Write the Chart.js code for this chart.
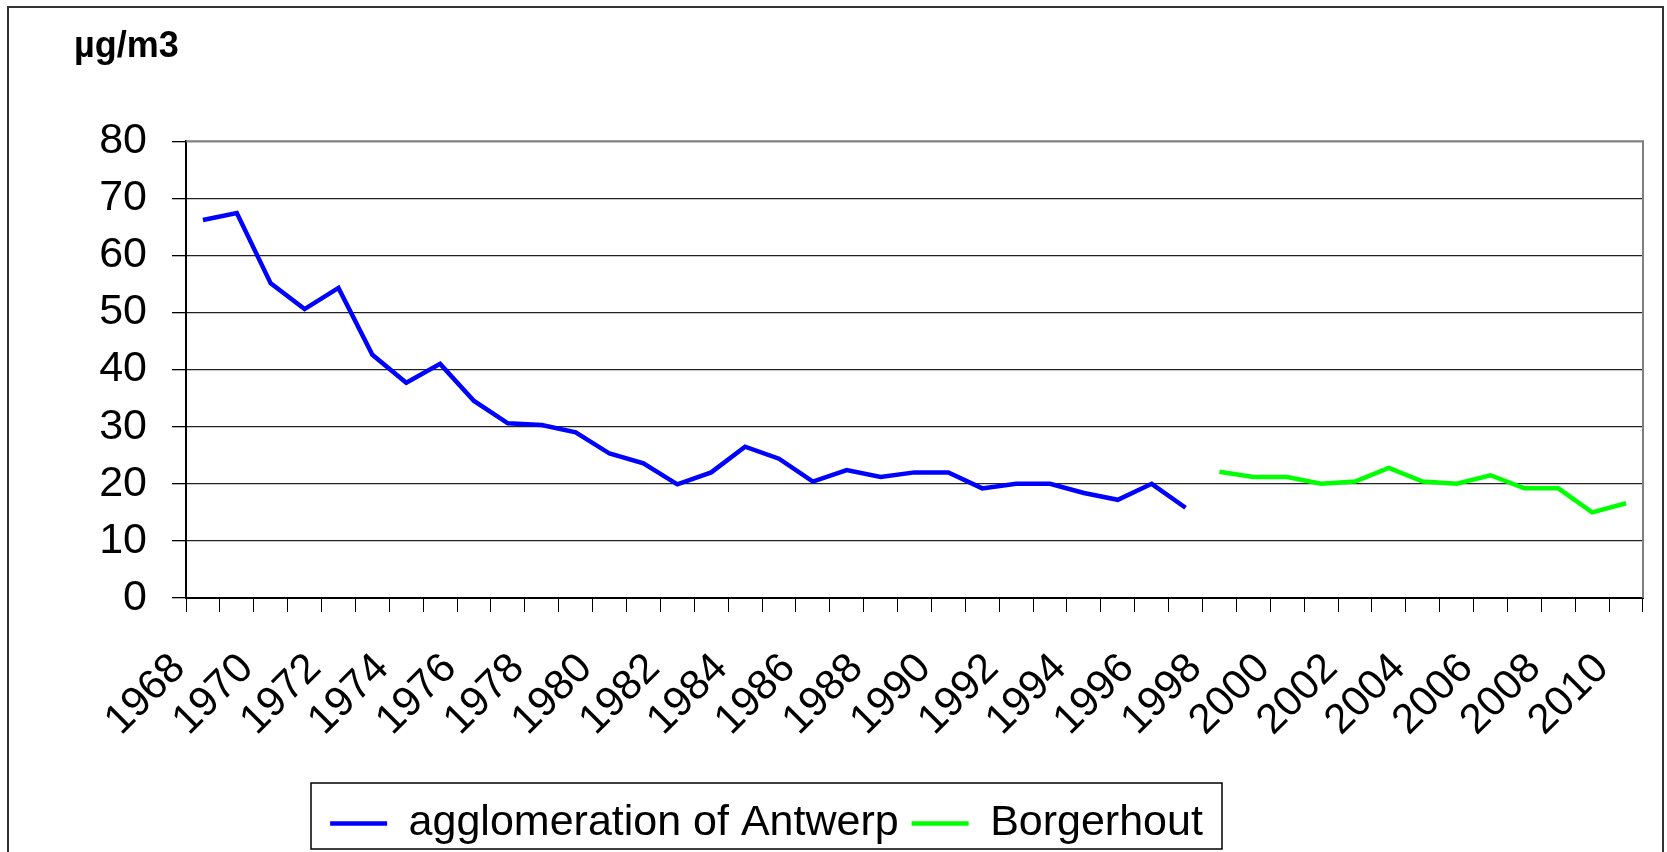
<!DOCTYPE html>
<html>
<head>
<meta charset="utf-8">
<script src="https://cdn.jsdelivr.net/npm/chart.js@4"></script>
<style>
  body { margin: 0; background: #fff; }
  #wrap { width: 1667px; height: 852px; }
</style>
</head>
<body>
<div id="wrap"><canvas id="myChart" width="1667" height="852"></canvas></div>
<script>
// categories
const years = ['1968','1969','1970','1971','1972','1973','1974','1975','1976','1977',
  '1978','1979','1980','1981','1982','1983','1984','1985','1986','1987',
  '1988','1989','1990','1991','1992','1993','1994','1995','1996','1997',
  '1998','1999','2000','2001','2002','2003','2004','2005','2006','2007',
  '2008','2009','2010'];

// µg/m3, agglomeration of Antwerp (1968-1997)
const antwerp = [66.2, 67.4, 55.1, 50.6, 54.3, 42.6, 37.7, 41.0, 34.5, 30.6,
  30.3, 29.0, 25.3, 23.6, 19.9, 22.0, 26.5, 24.4, 20.4, 22.4,
  21.2, 22.0, 22.0, 19.2, 20.0, 20.0, 18.4, 17.2, 20.0, 15.8,
  null, null, null, null, null, null, null, null, null, null,
  null, null, null];

// µg/m3, Borgerhout (1998-2010)
const borgerhout = [null, null, null, null, null, null, null, null, null, null,
  null, null, null, null, null, null, null, null, null, null,
  null, null, null, null, null, null, null, null, null, null,
  22.1, 21.2, 21.2, 20.0, 20.4, 22.8, 20.4, 20.0, 21.5, 19.2,
  19.2, 15.0, 16.6];

const yMin = 0;
const yMax = 80;
const yStep = 10;

const FONT = '"Liberation Sans", Arial, sans-serif';
const LEGEND_SHIFT = 6;

// frame, plot border and legend box like the excel original
const framePlugin = {
  id: 'frame',
  afterLayout(chart) {
    chart.titleBlock.left = 74;
    const lg = chart.legend;
    lg.left = 311;
    lg.right = 1222;
    // text sits a bit low in the original box
    lg.top += LEGEND_SHIFT;
    lg.bottom += LEGEND_SHIFT;
  },
  beforeDraw(chart) {
    const ctx = chart.ctx;
    ctx.save();
    ctx.fillStyle = '#fff';
    ctx.fillRect(0, 0, chart.width, chart.height);
    ctx.strokeStyle = '#333';
    ctx.lineWidth = 2;
    ctx.strokeRect(8, 7, 1655, 860);
    ctx.restore();
  },
  afterDraw(chart) {
    const ctx = chart.ctx;
    const a = chart.chartArea;
    ctx.save();
    ctx.strokeStyle = '#808080';
    ctx.lineWidth = 2;
    ctx.beginPath();
    ctx.moveTo(a.left, a.top);
    ctx.lineTo(a.right, a.top);
    ctx.lineTo(a.right, a.bottom);
    ctx.stroke();
    const lg = chart.legend;
    ctx.strokeStyle = '#000';
    ctx.lineWidth = 1.5;
    ctx.strokeRect(lg.left, lg.top - LEGEND_SHIFT, lg.right - lg.left, lg.bottom - lg.top);
    ctx.restore();
  }
};

new Chart(document.getElementById('myChart'), {
  type: 'line',
  data: {
    labels: years,
    datasets: [
      {
        label: 'agglomeration of Antwerp',
        data: antwerp,
        borderColor: '#0000ff',
        backgroundColor: '#0000ff',
        borderWidth: 4.5,
        pointRadius: 0,
        tension: 0,
        spanGaps: false
      },
      {
        label: 'Borgerhout',
        data: borgerhout,
        borderColor: '#00ff00',
        backgroundColor: '#00ff00',
        borderWidth: 4.5,
        pointRadius: 0,
        tension: 0,
        spanGaps: false
      }
    ]
  },
  options: {
    responsive: false,
    animation: false,
    layout: { padding: { left: 0, right: 24, top: 0, bottom: 3 } },
    plugins: {
      title: {
        display: true,
        text: 'µg/m3',
        align: 'start',
        color: '#000',
        font: { family: FONT, size: 36, weight: 'bold' },
        padding: { top: 25, bottom: 73 }
      },
      legend: {
        position: 'bottom',
        align: 'center',
        labels: {
          color: '#000',
          font: { family: FONT, size: 43 },
          usePointStyle: true,
          pointStyle: 'line',
          pointStyleWidth: 57,
          padding: 13
        }
      },
      tooltip: { enabled: false }
    },
    scales: {
      x: {
        offset: true,
        afterFit(scale) {
          scale.height = 185;
          // rotated labels should not squeeze the plot area
          scale.paddingLeft = 0;
          scale.paddingRight = 0;
        },
        grid: {
          offset: true,
          drawOnChartArea: false,
          drawTicks: true,
          tickLength: 14,
          tickColor: '#000',
          tickWidth: 1
        },
        border: { display: true, color: '#000', width: 2 },
        ticks: {
          autoSkip: false,
          minRotation: 45,
          maxRotation: 45,
          padding: 32,
          labelOffset: -24,
          color: '#000',
          font: { family: FONT, size: 42 },
          callback(value, index) {
            return index % 2 === 0 ? years[index] : '';
          }
        }
      },
      y: {
        min: yMin,
        max: yMax,
        afterFit(scale) { scale.width = 186; },
        grid: {
          color(ctx) { return ctx.tick && ctx.tick.value === yMax ? '#808080' : '#222'; },
          lineWidth: 1.3,
          drawTicks: true,
          tickLength: 14,
          tickColor: '#000'
        },
        border: { display: true, color: '#000', width: 2 },
        ticks: {
          stepSize: yStep,
          padding: 25,
          color: '#000',
          font: { family: FONT, size: 43 }
        }
      }
    }
  },
  plugins: [framePlugin]
});
</script>
</body>
</html>
